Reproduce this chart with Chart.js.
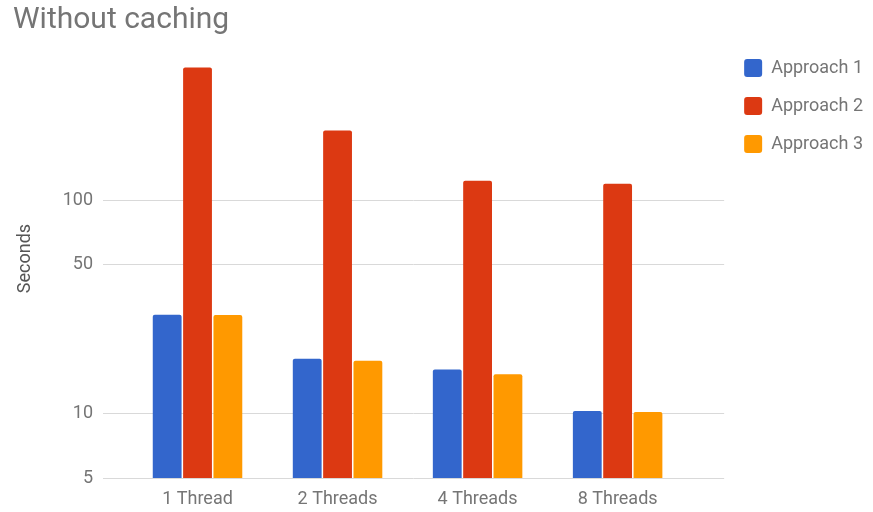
<!DOCTYPE html>
<html>
<head>
<meta charset="utf-8">
<title>Without caching</title>
<script src="https://cdn.jsdelivr.net/npm/chart.js@4.4.1/dist/chart.umd.min.js"></script>
<style>
  html, body { margin: 0; padding: 0; background: #fff; }
  #wrap { width: 873px; height: 512px; }
</style>
</head>
<body>
<div id="wrap"><canvas id="BarChart" width="873" height="512"></canvas></div>
<script>
// chart data (log scale, seconds)
const categories = ['1 Thread', '2 Threads', '4 Threads', '8 Threads'];
const approach1 = [29.1, 18.1, 16.1, 10.3];
const approach2 = [419, 212.5, 123.5, 119.5];
const approach3 = [29.0, 17.7, 15.3, 10.2];
const yTicks = [5, 10, 50, 100];

const seriesNames = ['Approach 1', 'Approach 2', 'Approach 3'];
const seriesColors = ['#3366cc', '#dc3912', '#ff9900'];

const textGray = '#757575';
const font = 'Roboto';

// bars sit on a linear index axis so the groups can be inset from the grid
function points(values) {
    return values.map((v, i) => ({ x: i, y: v }));
}

let ctx = document.getElementById('BarChart').getContext('2d');

let chart = new Chart(ctx, {
    type: 'bar',
    data: {
        datasets: [approach1, approach2, approach3].map((vals, i) => ({
            label: seriesNames[i],
            data: points(vals),
            backgroundColor: seriesColors[i],
            borderWidth: 0,
            borderRadius: 2,
            categoryPercentage: 0.65,
            barPercentage: 0.95
        }))
    },
    options: {
        responsive: false,
        animation: false,
        layout: { padding: { left: 13, top: 0, right: 0, bottom: 0 } },
        plugins: {
            title: {
                display: true,
                text: 'Without caching',
                align: 'start',
                color: textGray,
                font: { family: font, size: 30, weight: 'normal' },
                padding: { top: 2, bottom: 1 }
            },
            legend: {
                position: 'right',
                align: 'start',
                fullSize: false,
                labels: {
                    color: textGray,
                    font: { family: font, size: 18 },
                    boxWidth: 18,
                    boxHeight: 18,
                    padding: 20,
                    useBorderRadius: true,
                    borderRadius: 3
                }
            },
            tooltip: { enabled: false }
        },
        scales: {
            x: {
                type: 'linear',
                offset: false,
                min: -0.675,
                max: 3.7607,
                grid: { display: false, drawTicks: false, offset: false },
                border: { display: false },
                afterBuildTicks: (scale) => {
                    scale.ticks = categories.map((c, i) => ({ value: i }));
                },
                afterFit: (scale) => { scale.height = 34; },
                ticks: {
                    color: textGray,
                    font: { family: font, size: 18 },
                    padding: 11,
                    maxRotation: 0,
                    callback: (v) => categories[v]
                }
            },
            y: {
                type: 'logarithmic',
                min: 5,
                max: 570,
                grid: { color: '#d9d9d9', lineWidth: 1, drawTicks: false },
                border: { display: false },
                afterBuildTicks: (scale) => {
                    scale.ticks = yTicks.map(v => ({ value: v }));
                },
                afterFit: (scale) => { scale.width = 90; },
                ticks: {
                    color: textGray,
                    font: { family: font, size: 18 },
                    padding: 10,
                    callback: (v) => String(v)
                },
                title: {
                    display: true,
                    text: 'Seconds',
                    color: '#555',
                    font: { family: font, size: 18 },
                    padding: { top: 2, bottom: 0 }
                }
            }
        }
    }
});
</script>
</body>
</html>
